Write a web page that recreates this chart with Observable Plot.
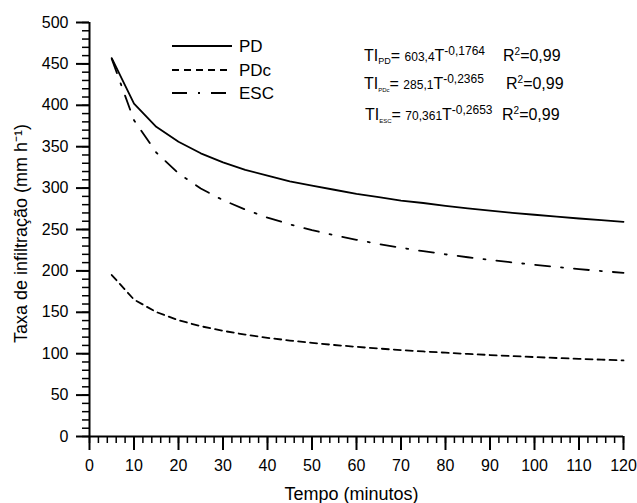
<!DOCTYPE html>
<html><head><meta charset="utf-8">
<script src="https://cdn.jsdelivr.net/npm/d3@7"></script>
<script src="https://cdn.jsdelivr.net/npm/@observablehq/plot@0.6"></script>
<style>
body{margin:0;background:#fff}
svg{font-family:"Liberation Sans",Arial,Helvetica,sans-serif}
</style>
</head><body><div id="chart"></div>
<script>
// Tempo (minutos)
const times = [5,10,15,20,25,30,35,40,45,50,55,60,65,70,75,80,85,90,95,100,105,110,115,120];
// Taxa de infiltração (mm h-1)
const pd  = [457,402,374,356,342,331,322,315,308,303,298,293,289,285,282,278.5,275.6,272.8,270.2,267.8,265.5,263.3,261.3,259.3];
const pdc = [195,165.4,150.3,140.4,133.2,127.6,123,119.2,115.9,113,110.5,108.3,106.2,104.4,102.7,101.2,99.7,98.4,97.1,95.9,94.8,93.8,92.8,91.9];
const esc = [456,382,343,317.8,299.5,285.5,274,264.4,256.3,249.2,243,237.5,232.5,228,223.8,220,216.5,213.3,210.2,207.4,204.7,202.1,199.8,197.6];

const seriesNames = ["PD","PDc","ESC"];
const xTicks = [0,10,20,30,40,50,60,70,80,90,100,110,120];
const yTicks = [0,50,100,150,200,250,300,350,400,450,500];
const xMinor = d3.range(0,121,2);
const yMinor = d3.range(0,501,10);
const xLabel = "Tempo (minutos)";
const yLabel = "Taxa de infiltração (mm h⁻¹)";
const eqCoef = ["603,4","285,1","70,361"];
const eqExp  = ["-0,1764","-0,2365","-0,2653"];
const eqR2   = ["0,99","0,99","0,99"];

const dashes = [null,"7,5","15,11,2,11"];
const allVals = [pd,pdc,esc];
const rows = (vals,name) => times.map((t,i)=>({t, v: vals[i], s: name}));

const W = 637, H = 503, ML = 89, MR = 14, MT = 22, MB = 67;

const svg = Plot.plot({
  width: W, height: H,
  marginLeft: ML, marginRight: MR, marginTop: MT, marginBottom: MB,
  x: {domain: [0,120]},
  y: {domain: [0,500]},
  style: {fontFamily: '"Liberation Sans",Arial,sans-serif', fontSize: "16px", color: "#000", background: "#fff"},
  marks: [
    // minor ticks
    Plot.axisX(xMinor, {tickSize: 7, strokeWidth: 1.5, tickFormat: () => "", label: null}),
    Plot.axisY(yMinor, {tickSize: 7, strokeWidth: 1.5, tickFormat: () => "", label: null}),
    // major ticks + labels
    Plot.axisX(xTicks, {tickSize: 14, tickPadding: 9, strokeWidth: 2, fontSize: 16, label: null}),
    Plot.axisY(yTicks, {tickSize: 13, tickPadding: 8, strokeWidth: 2, fontSize: 16, label: null}),
    // axis lines
    Plot.ruleX([0], {strokeWidth: 2}),
    Plot.ruleY([0], {strokeWidth: 2}),
    ...seriesNames.map((n,i) => Plot.line(rows(allVals[i], n), {x: "t", y: "v", stroke: "#000", strokeWidth: 1.8, strokeDasharray: dashes[i]})),
    Plot.text([xLabel], {text: d => d, frameAnchor: "bottom", textAnchor: "middle", dy: 63, dx: -5, lineAnchor: "bottom", fontSize: 18}),
    Plot.text([yLabel], {text: d => d, frameAnchor: "left", textAnchor: "middle", rotate: -90, dx: -63, dy: 4, lineAnchor: "bottom", fontSize: 18})
  ]
});
document.getElementById("chart").appendChild(svg);

const s = d3.select(svg);
// Legend (inside plot)
const lg = s.append("g").attr("fill","#000").attr("text-anchor","start");
seriesNames.forEach((n,i) => {
  const y = [46,70,93][i];
  lg.append("line").attr("x1",172).attr("x2",232).attr("y1",y).attr("y2",y)
    .attr("stroke","#000").attr("stroke-width",1.8).attr("stroke-dasharray", dashes[i]);
  lg.append("text").attr("x",239).attr("y",y+6).attr("font-size",17).text(n);
});

// Equations
const subs = ["PD","PDc","ESC"];
const subSize = [9,6,6];
const eqY = [61,89,120];
const eqX = [364,364,365];
const r2X = [503,506,502];
subs.forEach((sb,i) => {
  const t = lg.append("text").attr("x",eqX[i]).attr("y",eqY[i]).attr("font-size",16);
  t.append("tspan").text("TI");
  t.append("tspan").attr("font-size",subSize[i]).attr("dy",3).text(sb);
  t.append("tspan").attr("dy",-3).text("= ");
  t.append("tspan").attr("font-size",12).text(eqCoef[i]);
  t.append("tspan").text("T");
  t.append("tspan").attr("font-size",12).attr("dy",-6).text(eqExp[i]);
  const r = lg.append("text").attr("x",r2X[i]).attr("y",eqY[i]).attr("font-size",16);
  r.append("tspan").text("R");
  r.append("tspan").attr("font-size",10).attr("dy",-6).text("2");
  r.append("tspan").attr("dy",6).text("=" + eqR2[i]);
});
</script>
</body></html>
